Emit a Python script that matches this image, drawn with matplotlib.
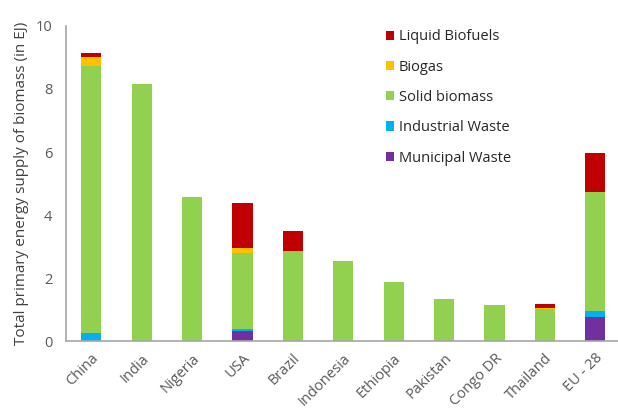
import matplotlib
matplotlib.use("Agg")
import matplotlib.pyplot as plt
import numpy as np

plt.rcParams['font.family'] = ['Open Sans', 'DejaVu Sans']

countries = ["China", "India", "Nigeria", "USA", "Brazil", "Indonesia",
             "Ethiopia", "Pakistan", "Congo DR", "Thailand", "EU - 28"]
municipal = [0.00, 0.00, 0.00, 0.32, 0.00, 0.00, 0.00, 0.00, 0.00, 0.00, 0.76]
industrial = [0.25, 0.00, 0.00, 0.06, 0.00, 0.00, 0.00, 0.00, 0.00, 0.00, 0.19]
solid = [8.48, 8.15, 4.57, 2.41, 2.86, 2.54, 1.87, 1.33, 1.14, 1.02, 3.78]
biogas = [0.30, 0.00, 0.00, 0.16, 0.00, 0.00, 0.00, 0.00, 0.00, 0.04, 0.00]
liquid = [0.12, 0.00, 0.00, 1.43, 0.63, 0.00, 0.00, 0.00, 0.00, 0.11, 1.24]

series = [("Municipal Waste", municipal, "#7030A0"),
          ("Industrial Waste", industrial, "#00B0F0"),
          ("Solid biomass", solid, "#92D050"),
          ("Biogas", biogas, "#FFC000"),
          ("Liquid Biofuels", liquid, "#C00000")]

fig = plt.figure(figsize=(6.18, 4.12), dpi=100)
ax = fig.add_axes([0.107, 0.172, 0.893, 0.765])

x = np.arange(len(countries))
bottom = np.zeros(len(countries))
handles = []
for name, vals, col in series:
    v = np.array(vals)
    h = ax.bar(x, v, 0.4, bottom=bottom, color=col, label=name)
    handles.append(h)
    bottom += v

ax.set_xlim(-0.5, 10.45)
ax.set_ylim(0, 10)
ax.set_yticks([0, 2, 4, 6, 8, 10])
ax.set_xticks(x)
ax.set_xticklabels(countries, rotation=45, ha='right', rotation_mode='anchor')
ax.tick_params(axis='both', length=0, colors='#595959', labelsize=10.5)
ax.tick_params(axis='x', pad=7)
ax.tick_params(axis='y', pad=10)
for s in ['top', 'right']:
    ax.spines[s].set_visible(False)
for s in ['left', 'bottom']:
    ax.spines[s].set_color('#A6A6A6')
    ax.spines[s].set_linewidth(1.2)
ax.set_ylabel("Total primary energy supply of biomass (in EJ)", color='#404040',
              fontsize=11, labelpad=5)

leg = ax.legend(handles[::-1], [s[0] for s in series][::-1], loc='upper left',
                bbox_to_anchor=(0.555, 1.031), frameon=False, fontsize=10.5,
                handlelength=0.6, handleheight=0.6, handletextpad=0.3,
                labelspacing=1.05, labelcolor='#262626')

fig.savefig("out.png", dpi=100)
